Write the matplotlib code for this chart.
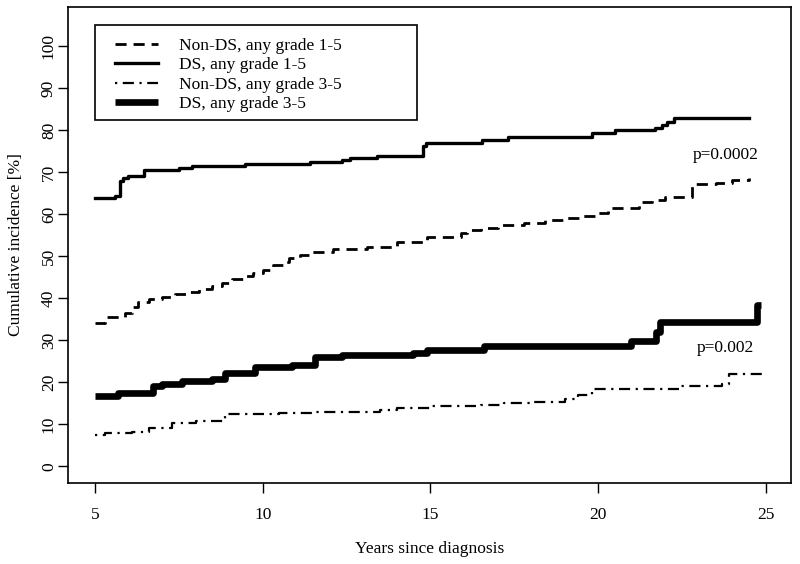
import matplotlib
matplotlib.use("Agg")
import matplotlib.pyplot as plt
from matplotlib.patches import Rectangle

plt.rcParams["font.family"] = ["Liberation Serif", "DejaVu Serif"]

# Non-DS, any grade 1-5 (step times in years, cumulative incidence %)
nonds_15_x = [5.0, 5.3, 5.9, 6.1, 6.3, 6.6, 7.0, 7.4, 7.8, 8.1, 8.5, 8.8, 9.1, 9.4,
              9.7, 10.0, 10.3, 10.6, 10.8, 11.1, 11.4, 12.1, 13.1, 14.0, 14.9,
              15.9, 16.1, 16.5, 17.0, 17.8, 18.4, 19.0, 19.5, 20.0, 20.3, 21.2,
              21.6, 22.0, 22.8, 23.5, 24.0, 24.5]
nonds_15_y = [34.0, 35.6, 36.5, 38.0, 39.0, 39.8, 40.2, 41.0, 41.5, 42.2, 42.8, 43.5,
              44.5, 45.2, 46.0, 46.8, 47.8, 48.6, 49.5, 50.3, 51.0, 51.6, 52.1,
              53.3, 54.6, 55.6, 56.2, 56.8, 57.3, 57.8, 58.6, 59.0, 59.5, 60.3,
              61.4, 62.8, 63.4, 64.1, 67.1, 67.4, 68.1, 68.6]

# DS, any grade 1-5
ds_15_x = [5.0, 5.6, 5.75, 5.85, 6.0, 6.45, 7.5, 7.9, 9.46, 11.4, 12.35, 12.6,
           13.4, 14.78, 14.88, 16.55, 17.3, 19.8, 20.5, 21.7, 21.9, 22.05, 22.25,
           24.5]
ds_15_y = [63.8, 64.3, 67.8, 68.5, 69.0, 70.5, 71.0, 71.5, 72.0, 72.5, 73.0, 73.4,
           73.8, 76.2, 76.9, 77.6, 78.4, 79.2, 80.0, 80.6, 81.3, 82.0, 82.9, 82.9]

# Non-DS, any grade 3-5
nonds_35_x = [5.0, 5.3, 6.1, 6.6, 7.3, 8.0, 8.87, 10.5, 11.5, 12.5, 13.5, 14.0,
              15.0, 16.5, 17.2, 18.0, 19.0, 19.4, 19.8, 22.4, 23.7, 23.9, 24.9]
nonds_35_y = [7.4, 7.9, 8.2, 9.0, 10.3, 10.7, 12.4, 12.6, 12.8, 13.0, 13.3, 13.9,
              14.3, 14.6, 15.0, 15.4, 15.9, 17.0, 18.3, 19.0, 19.5, 21.9, 21.9]

# DS, any grade 3-5
ds_35_x = [5.0, 5.7, 6.73, 7.0, 7.6, 8.5, 8.87, 9.76, 10.86, 11.55, 12.35, 14.47,
           14.9, 16.6, 20.98, 21.73, 21.85, 24.73, 24.85]
ds_35_y = [16.7, 17.5, 19.2, 19.6, 20.2, 20.8, 22.1, 23.7, 24.1, 25.9, 26.4, 27.0,
           27.6, 28.6, 29.8, 32.0, 34.4, 38.3, 38.3]

x_ticks = [5, 10, 15, 20, 25]
y_ticks = list(range(0, 101, 10))

fig = plt.figure(figsize=(8.0, 5.64), dpi=100)
ax = fig.add_axes((0.085, 0.1436, 0.904, 0.844))

ax.plot(nonds_15_x, nonds_15_y, drawstyle="steps-post", color="black",
        lw=2.0, dashes=(4, 2.5), label="Non-DS, any grade 1-5")
ax.plot(ds_15_x, ds_15_y, drawstyle="steps-post", color="black",
        lw=2.4, label="DS, any grade 1-5")
ax.plot(nonds_35_x, nonds_35_y, drawstyle="steps-post", color="black",
        lw=1.6, dashes=(1, 2.5, 5, 2.5), label="Non-DS, any grade 3-5")
ax.plot(ds_35_x, ds_35_y, drawstyle="steps-post", color="black",
        lw=4.8, solid_capstyle="butt", label="DS, any grade 3-5")

ax.text(23.8, 74, "p=0.0002", ha="center", va="center", fontsize=12.5)
ax.text(23.8, 28.1, "p=0.002", ha="center", va="center", fontsize=12.5)

ax.set_xlim(4.2, 25.75)
ax.set_ylim(-4, 109.3)
ax.set_xticks(x_ticks)
ax.set_yticks(y_ticks)
ax.set_yticklabels([str(v) for v in y_ticks], rotation=90, va="center")
ax.tick_params(axis="both", direction="out", length=7, width=1, labelsize=12.5)
ax.tick_params(axis="x", pad=10)
ax.tick_params(axis="y", pad=1)
for s in ax.spines.values():
    s.set_linewidth(1.2)

ax.set_xlabel("Years since diagnosis", fontsize=12.5, labelpad=13)
ax.set_ylabel("Cumulative incidence [%]", fontsize=12.5, labelpad=12)

# legend box drawn like R's, wider than its contents
ax.add_patch(Rectangle((0.0373, 0.7626), 0.4454, 0.1994, transform=ax.transAxes,
                       facecolor="white", edgecolor="black", lw=1.2, zorder=4))
leg = ax.legend(loc="upper left", bbox_to_anchor=(0.065, 0.936), fontsize=12.5,
                frameon=False, handlelength=2.5, handletextpad=1.2, borderpad=0,
                labelspacing=0.2, borderaxespad=0)
leg.set_zorder(5)

fig.savefig("out.png", dpi=100)
